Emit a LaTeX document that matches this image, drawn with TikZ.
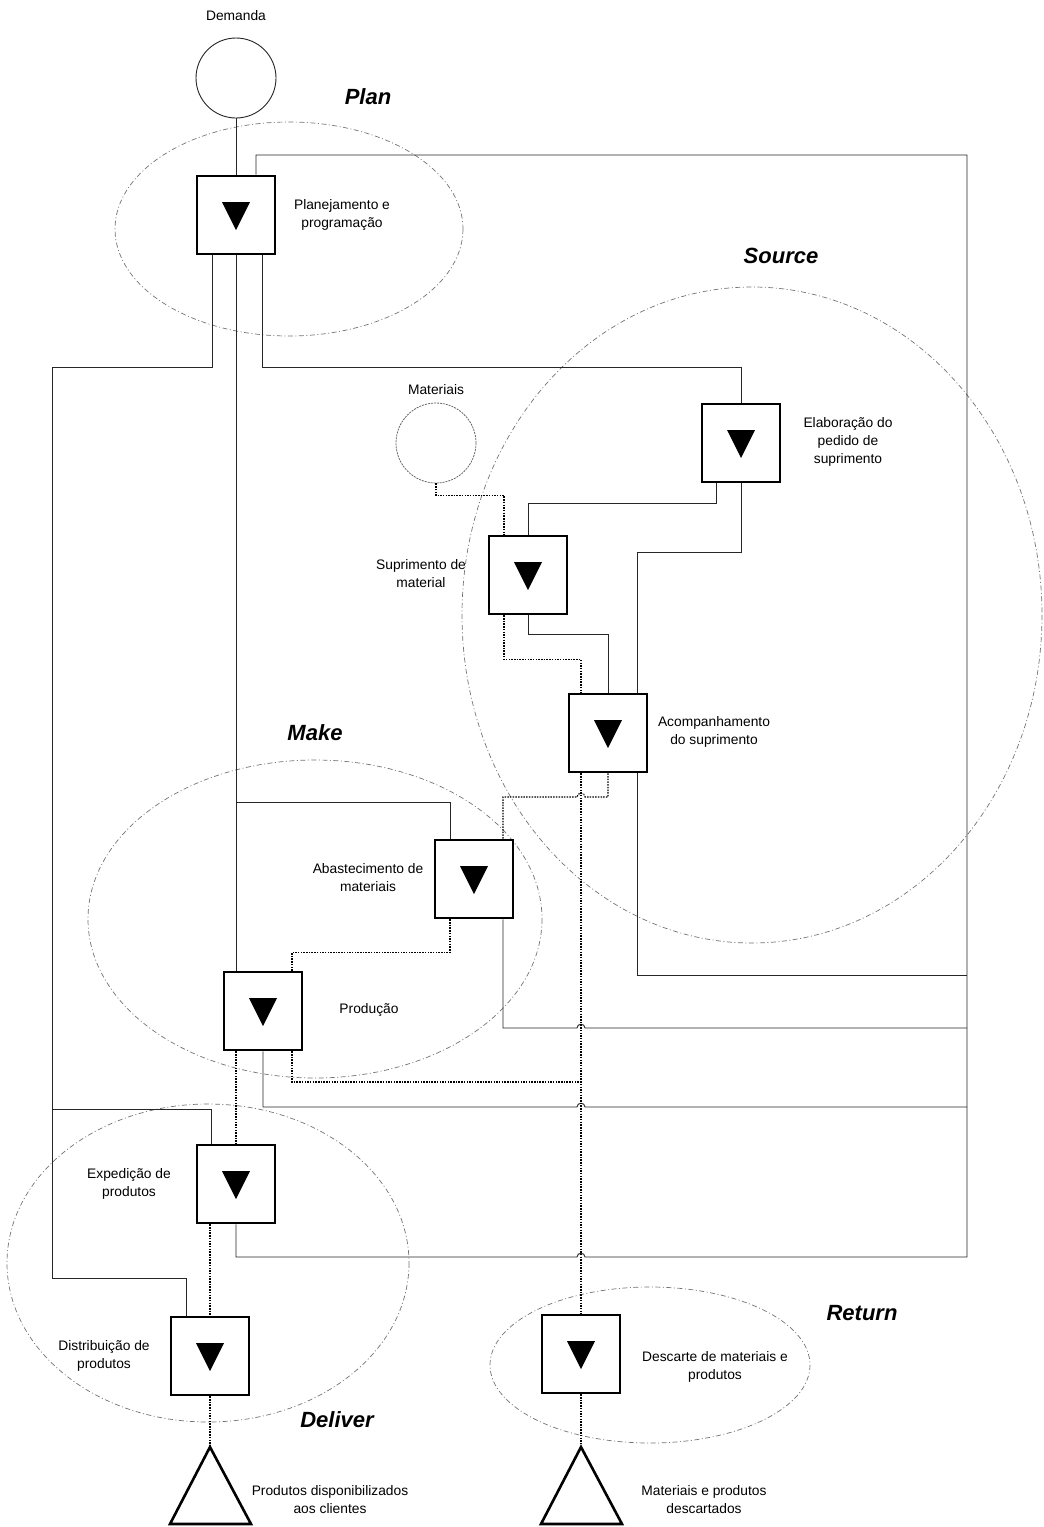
\documentclass[tikz,border=0pt]{standalone}
\usepackage{fontspec}
\setmainfont{Liberation Sans}
\usetikzlibrary{calc}
\begin{document}
\begin{tikzpicture}[x=1pt,y=-1pt,
  stepbox/.style={draw=black, line width=2.6pt, fill=white, minimum width=78pt, minimum height=78pt, inner sep=0pt,
    path picture={\fill[black] ($(path picture bounding box.center)+(-14pt,13pt)$) -- ($(path picture bounding box.center)+(14pt,13pt)$) -- ($(path picture bounding box.center)+(0pt,-15pt)$) -- cycle;}},
  conn/.style={draw=black!85, line width=0.9pt},
  flow/.style={draw=black, line width=1.1pt, dash pattern=on 1.5pt off 1.2pt},
  phase/.style={draw=black!55, line width=0.7pt, dash pattern=on 5pt off 2.5pt on 1pt off 2.5pt},
  lbl/.style={font=\fontsize{13.8}{18}\selectfont, align=center, inner sep=0pt},
  ph/.style={font=\fontsize{22}{26}\selectfont\bfseries\itshape, inner sep=0pt},
  tri/.style={draw=black, line width=2.6pt, line join=miter}
]
\useasboundingbox (0,0) rectangle (1044,1527);

% phase ellipses
\draw[phase] (289,229) ellipse [x radius=174, y radius=107];
\draw[phase] (752,615) ellipse [x radius=290, y radius=328];
\draw[phase] (315,919) ellipse [x radius=227, y radius=159];
\draw[phase] (208,1263) ellipse [x radius=201, y radius=159];
\draw[phase] (650,1365) ellipse [x radius=160, y radius=78];

% phase labels
\node[ph] (lplan) at (368,97) {Plan};
\node[ph] (lsource) at (781,256) {Source};
\node[ph] (lmake) at (315,733) {Make};
\node[ph] (ldeliver) at (337,1420) {Deliver};
\node[ph] (lreturn) at (862,1313) {Return};

% circles
\node[circle, draw=black!85, line width=0.9pt, minimum size=80pt, inner sep=0pt] (dem) at (236,78) {};
\node[circle, draw=black!60, line width=0.8pt, dash pattern=on 2pt off 1pt, minimum size=80pt, inner sep=0pt] (mat) at (436,443) {};

% boxes
\node[stepbox] (plan) at (236,215) {};
\node[stepbox] (elab) at (741,443) {};
\node[stepbox] (supr) at (528,575) {};
\node[stepbox] (acomp) at (608,733) {};
\node[stepbox] (abast) at (474,879) {};
\node[stepbox] (prod) at (263,1011) {};
\node[stepbox] (exped) at (236,1184) {};
\node[stepbox] (distr) at (210,1356) {};
\node[stepbox] (desc) at (581,1354) {};

% end triangles
\coordinate (tri1) at (210,1447);
\coordinate (tri2) at (581,1447);
\draw[tri] (tri1) -- ++(-40,77) -- ++(81,0) -- cycle;
\draw[tri] (tri2) -- ++(-40,77) -- ++(81,0) -- cycle;

% texts
\node[lbl] (tdem) at (236,16) {Demanda};
\node[lbl] (tplan) at (342,215) {Planejamento e\\programação};
\node[lbl] (tmat) at (436,390) {Materiais};
\node[lbl] (telab) at (848,442) {Elaboração do\\pedido de\\suprimento};
\node[lbl] (tsupr) at (421,574) {Suprimento de\\material};
\node[lbl] (tacomp) at (714,732) {Acompanhamento\\do suprimento};
\node[lbl] (tabast) at (368,878) {Abastecimento de\\materiais};
\node[lbl] (tprod) at (369,1010) {Produção};
\node[lbl] (texped) at (129,1184) {Expedição de\\produtos};
\node[lbl] (tdistr) at (104,1356) {Distribuição de\\produtos};
\node[lbl] (tdesc) at (715,1367) {Descarte de materiais e\\produtos};
\node[lbl] (ttri1) at (330,1500) {Produtos disponibilizados\\aos clientes};
\node[lbl] (ttri2) at (704,1500) {Materiais e produtos\\descartados};

% helper coordinates
\coordinate (busTop) at (967,155);
\coordinate (bus975) at (967,975);
\coordinate (bus1028) at (967,1028);
\coordinate (bus1107) at (967,1107);
\coordinate (busBot) at (967,1257);
\coordinate (hopA) at (581,797);
\coordinate (hopB) at (581,1028);
\coordinate (hopC) at (581,1107);
\coordinate (hopD) at (581,1257);
\coordinate (join) at (581,1082);
\coordinate (Ltop) at (52,367);
\coordinate (Lmid) at (52,1109);
\coordinate (Lbot) at (52,1278);
\coordinate (Mk) at (236,802);

% solid connectors (information)
\draw[conn] (dem) -- (plan);
\draw[conn] ($(plan.south)+(-24,0)$) |- (Ltop) -- (Lbot) -| ($(distr.north)+(-24,0)$);
\draw[conn] (Lmid) -| ($(exped.north)+(-25,0)$);
\draw[conn] (plan.south) -- ($(prod.north)+(-27,0)$);
\draw[conn] (Mk) -| ($(abast.north)+(-24,0)$);
\draw[conn] ($(plan.south)+(26,0)$) -- ++(0,112) -| (elab.north);
\draw[conn] ($(elab.south)+(-25,0)$) -- ++(0,20) -| (supr.north);
\draw[conn] (elab.south) -- ++(0,69) -| ($(acomp.north)+(29,0)$);
\draw[conn] (supr.south) -- ++(0,19) -| (acomp.north);
\draw[conn] ($(acomp.south)+(29,0)$) |- (bus975);
\draw[conn] ($(abast.south)+(29,0)$) |- ($(hopB)+(-4,0)$) .. controls +(0,-5) and +(0,-5) .. ($(hopB)+(4,0)$) -- (bus1028);
\draw[conn] (prod.south) |- ($(hopC)+(-4,0)$) .. controls +(0,-5) and +(0,-5) .. ($(hopC)+(4,0)$) -- (bus1107);
\draw[conn] (exped.south) |- ($(hopD)+(-4,0)$) .. controls +(0,-5) and +(0,-5) .. ($(hopD)+(4,0)$) -- (busBot) -- (busTop) -| ($(plan.north)+(20,0)$);

% dotted connectors (material)
\draw[flow] (mat.south) -- ++(0,12) -| ($(supr.north)+(-24,0)$);
\draw[flow] ($(supr.south)+(-24,0)$) -- ++(0,44) -| ($(acomp.north)+(-27,0)$);
\draw[flow] ($(acomp.south)+(-27,0)$) -- (desc.north);
\draw[flow] (acomp.south) |- ($(hopA)+(4,0)$) .. controls +(0,-5) and +(0,-5) .. ($(hopA)+(-4,0)$) -| ($(abast.north)+(29,0)$);
\draw[flow] ($(abast.south)+(-24,0)$) -- ++(0,33) -| ($(prod.north)+(29,0)$);
\draw[flow] ($(prod.south)+(-27,0)$) -- (exped.north);
\draw[flow] ($(prod.south)+(29,0)$) |- (join);
\draw[flow] ($(exped.south)+(-26,0)$) -- (distr.north);
\draw[flow] (distr.south) -- (tri1);
\draw[flow] (desc.south) -- (tri2);
\end{tikzpicture}
\end{document}
